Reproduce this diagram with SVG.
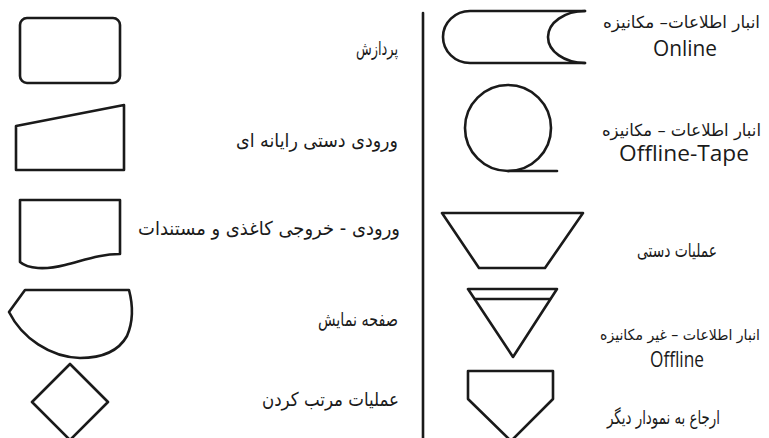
<svg xmlns="http://www.w3.org/2000/svg" width="769" height="438" viewBox="0 0 769 438">
<style>
.s{fill:none;stroke:#1a1a1a;stroke-width:2.6;stroke-linejoin:round;stroke-linecap:round}
.fa{font-family:"DejaVu Sans",sans-serif;font-size:19px;fill:#1a1a1a;text-anchor:end}
.fr{font-size:16.5px}
.fs{font-size:15px}
.en{font-family:"Open Sans","DejaVu Sans",sans-serif;font-size:21px;fill:#1a1a1a;text-anchor:middle}
</style>
<rect width="769" height="438" fill="#ffffff"/>
<g id="divider"><line class="s" x1="423" y1="13" x2="423" y2="438"/></g>
<g id="process">
<rect class="s" x="20" y="18" width="100" height="65" rx="7"/>
<text class="fa" x="398" y="55" textLength="42" lengthAdjust="spacingAndGlyphs">پردازش</text>
</g>
<g id="manual-input">
<polygon class="s" points="16,126 124,105 124,170 16,170"/>
<text class="fa" x="398" y="147" textLength="162" lengthAdjust="spacingAndGlyphs">ورودی دستی رایانه ای</text>
</g>
<g id="document">
<path class="s" d="M20,200 H120 V254 C100,254 85,260 65,265 C45,270 28,269 20,262 Z"/>
<text class="fa" x="400" y="235" textLength="262" lengthAdjust="spacingAndGlyphs">ورودی - خروجی کاغذی و مستندات</text>
</g>
<g id="display">
<path class="s" d="M25,290 H129 C133,305 133,322 127,336 C118,352 100,358 80,358 C50,357 22,338 9,312 Z"/>
<text class="fa" x="398" y="326" textLength="80" lengthAdjust="spacingAndGlyphs">صفحه نمایش</text>
</g>
<g id="sort">
<polygon class="s" points="70,364 108,402 70,440 32,402"/>
<text class="fa" x="399" y="406" textLength="137" lengthAdjust="spacingAndGlyphs">عملیات مرتب کردن</text>
</g>
<g id="online-storage">
<path class="s" d="M585,11 H470 A27,26 0 0 0 470,63 H585"/>
<path class="s" d="M585,11 A37,26 0 0 0 585,63"/>
<text class="fa fr" x="760" y="28" textLength="157" lengthAdjust="spacingAndGlyphs">انبار اطلاعات– مکانیزه</text>
<text class="en" x="685" y="56" textLength="64" lengthAdjust="spacingAndGlyphs">Online</text>
</g>
<g id="tape">
<circle class="s" cx="508" cy="128" r="43"/>
<line class="s" x1="508" y1="171" x2="557" y2="171"/>
<text class="fa fr" x="761" y="136" textLength="159" lengthAdjust="spacingAndGlyphs">انبار اطلاعات – مکانیزه</text>
<text class="en" x="684" y="161" textLength="130" lengthAdjust="spacingAndGlyphs">Offline-Tape</text>
</g>
<g id="manual-operation">
<polygon class="s" points="442,213 583,213 545,268 479,268"/>
<text class="fa" x="717" y="257" textLength="80" lengthAdjust="spacingAndGlyphs">عملیات دستی</text>
</g>
<g id="offline-storage">
<polygon class="s" points="468,289 557,289 513,357"/>
<line class="s" x1="475" y1="299" x2="550" y2="299"/>
<text class="fa fs" x="760" y="340" textLength="160" lengthAdjust="spacingAndGlyphs">انبار اطلاعات – غیر مکانیزه</text>
<text class="en" x="677" y="367" textLength="54" lengthAdjust="spacingAndGlyphs">Offline</text>
</g>
<g id="off-page">
<polygon class="s" points="468,371 553,371 553,399 511,441 468,399"/>
<text class="fa" x="720" y="424" textLength="113" lengthAdjust="spacingAndGlyphs">ارجاع به نمودار دیگر</text>
</g>
</svg>
